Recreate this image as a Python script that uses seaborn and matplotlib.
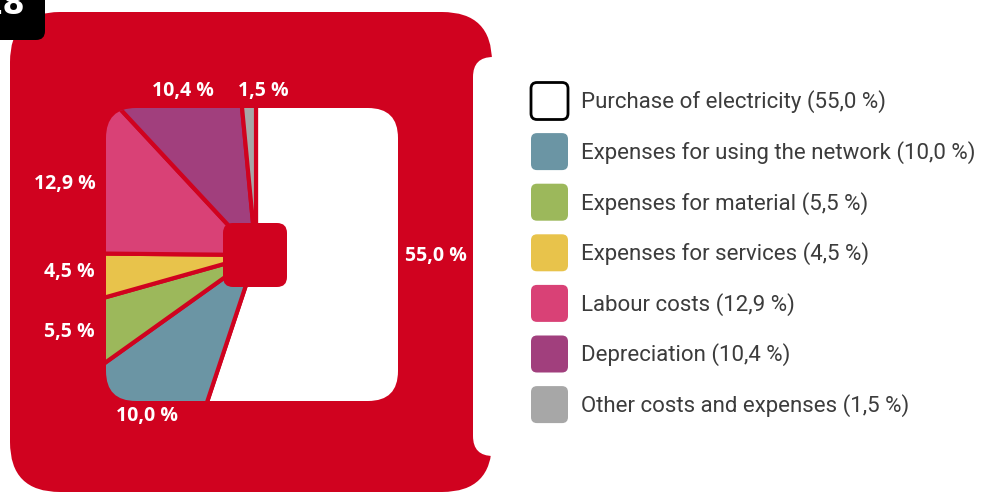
import matplotlib
matplotlib.use("Agg")
import matplotlib.pyplot as plt
from matplotlib.patches import FancyBboxPatch, PathPatch
import seaborn as sns

# data
categories = [
    "Purchase of electricity",
    "Expenses for using the network",
    "Expenses for material",
    "Expenses for services",
    "Labour costs",
    "Depreciation",
    "Other costs and expenses",
]
shares = [55.0, 10.0, 5.5, 4.5, 12.9, 10.4, 1.5]
slice_colors = ["#ffffff", "#6b95a4", "#9cb85b", "#e8c34b", "#d94176", "#a13f7d", "#a7a7a7"]

# layout (pixel coordinates, y down)
label_pos = [(436, 256, "center"), (147, 416, "center"), (95, 332, "right"),
             (95, 272, "right"), (96, 184, "right"), (183, 91, "center"),
             (263, 91, "center")]
RED = "#d0021f"

sns.set_theme(style="white")
plt.rcParams["font.family"] = ["Open Sans", "DejaVu Sans"]
palette = sns.color_palette(slice_colors)

fig = plt.figure(figsize=(9.81, 4.92), dpi=100)
ax = fig.add_axes([0, 0, 1, 1])
ax.set_xlim(0, 981)
ax.set_ylim(492, 0)


def rbox(x0, y0, x1, y1, r, **kw):
    p = FancyBboxPatch((x0 + r, y0 + r), x1 - x0 - 2 * r, y1 - y0 - 2 * r,
                       boxstyle=f"round,pad={r}", **kw)
    ax.add_patch(p)
    return p


# red frame with the white notch on its right side
rbox(10, 12, 492, 492, 50, facecolor=RED, edgecolor="none", zorder=1)
rbox(473, 57, 700, 456, 20, facecolor="white", edgecolor="none", zorder=2)

# black number tab
rbox(-40, -40, 45, 40, 9, facecolor="black", edgecolor="none", zorder=2)
ax.text(25, 5, "18", color="white", fontsize=23, fontweight="bold",
        ha="right", va="center", zorder=3, family=["DejaVu Sans"])

# pie clipped to a rounded square
box = FancyBboxPatch((136, 138), 232, 233, boxstyle="round,pad=30")
clip = PathPatch(box.get_path(), facecolor="none", edgecolor="none",
                 transform=ax.transData)
ax.add_patch(clip)

wedges, _ = ax.pie(shares, colors=palette, startangle=-90, counterclock=True,
                   center=(256, 255), radius=260, frame=True,
                   wedgeprops=dict(edgecolor=RED, linewidth=3))
for w in wedges:
    w.set_zorder(3)
    w.set_clip_on(True)
    w.set_clip_path(clip)

rbox(223, 223, 287, 287, 10, facecolor=RED, edgecolor="none", zorder=4)

for v, (x, y, ha) in zip(shares, label_pos):
    ax.text(x, y, f"{v:.1f} %".replace(".", ","), color="white", fontsize=14,
            fontweight="bold", ha=ha, va="center", zorder=5)

# legend
for i, (name, v, c) in enumerate(zip(categories, shares, palette)):
    yc = 101 + i * 50.6
    ec = "black" if i == 0 else "none"
    rbox(531, yc - 18.5, 568, yc + 18.5, 6, facecolor=c, edgecolor=ec,
         linewidth=2, zorder=3)
    ax.text(581, yc + 1, f"{name} ({v:.1f} %)".replace(".", ","),
            color="#3c3c3c", fontsize=16, ha="left", va="center", zorder=3,
            family=["Roboto", "DejaVu Sans"])

ax.set_xlim(0, 981)
ax.set_ylim(492, 0)
ax.set_aspect("auto")
ax.axis("off")

fig.savefig("out.png", dpi=100)
